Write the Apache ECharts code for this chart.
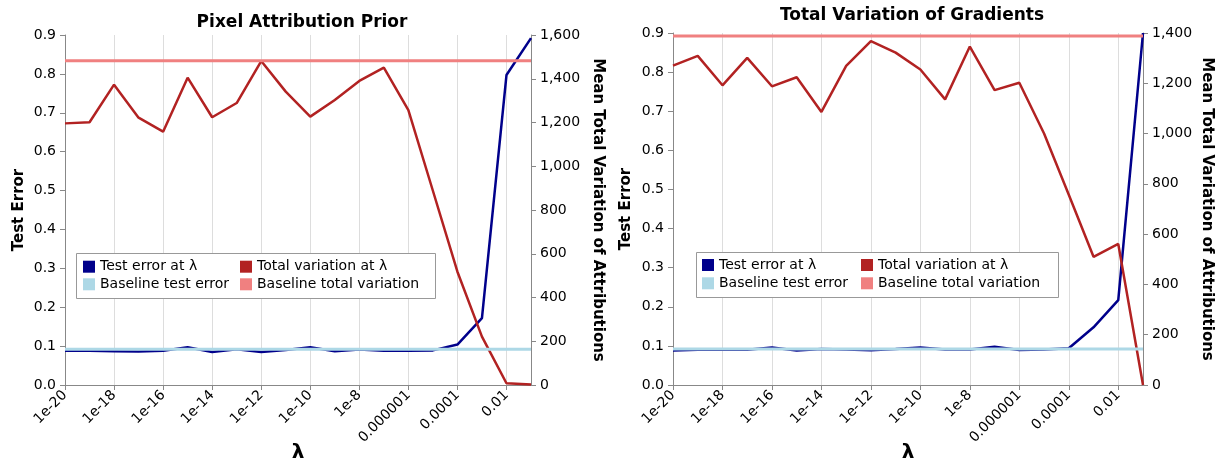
<!DOCTYPE html>
<html><head><meta charset="utf-8">
<script src="https://cdn.jsdelivr.net/npm/echarts@6/dist/echarts.min.js"></script>
<style>html,body{margin:0;padding:0;background:#fff}#c{width:1225px;height:463px}</style>
</head><body><div id="c"></div>
<script>
// ---- data ----
const lambdas = ['1e-20','1e-19','1e-18','1e-17','1e-16','1e-15','1e-14','1e-13','1e-12','1e-11',
  '1e-10','1e-9','1e-8','1e-7','0.000001','0.00001','0.0001','0.001','0.01','0.1'];

const panelTitles = ['Pixel Attribution Prior', 'Total Variation of Gradients'];

const pixTestError = [0.088,0.088,0.087,0.086,0.088,0.097,0.085,0.092,0.085,0.090,
  0.097,0.087,0.091,0.088,0.088,0.089,0.104,0.172,0.797,0.892];
const pixTotalVar = [1196,1201,1373,1222,1158,1405,1224,1289,1481,1341,
  1227,1303,1390,1451,1257,888,518,221,8,2];
const pixBaselineError = 0.092;
const pixBaselineTV = 1482;

const tvgTestError = [0.088,0.090,0.091,0.090,0.096,0.088,0.092,0.091,0.089,0.092,
  0.096,0.091,0.091,0.098,0.0895,0.091,0.094,0.1475,0.217,0.9];
const tvgTotalVar = [1270,1309,1192,1301,1188,1224,1086,1269,1368,1322,
  1255,1136,1346,1173,1202,1000,757,510,561,0];
const tvgBaselineError = 0.092;
const tvgBaselineTV = 1388;

const rightAxisMax = [1600, 1400];

// ---- chart ----
const FONT = 'DejaVu Sans';
const chart = echarts.init(document.getElementById('c'), null, {renderer:'canvas'});

const grids = [
  {left:65, top:35, width:466, height:350, containLabel:false, outerBoundsMode:'none'},
  {left:673, top:33, width:470, height:352, containLabel:false, outerBoundsMode:'none'}
];

const panels = [
  {test:pixTestError, tv:pixTotalVar, be:pixBaselineError, btv:pixBaselineTV},
  {test:tvgTestError, tv:tvgTotalVar, be:tvgBaselineError, btv:tvgBaselineTV}
];

const nameGaps = [{l:38, r:59}, {l:39, r:56}];

const xAxes = [], yAxes = [], series = [];
panels.forEach((p, i) => {
  xAxes.push({
    type:'category', gridIndex:i, data:lambdas, boundaryGap:false,
    name:'λ', nameLocation:'middle', nameGap:58, nameMoveOverlap:false,
    nameTextStyle:{fontSize:20, fontWeight:'bold', color:'#000', fontFamily:FONT},
    axisLine:{lineStyle:{color:'#888'}},
    axisTick:{show:true, interval:1, length:5, lineStyle:{color:'#888'}},
    axisLabel:{interval:1, rotate:45, margin:8, fontSize:14, color:'#000', fontFamily:FONT},
    splitLine:{show:true, interval:1, lineStyle:{color:'#ddd'}}
  });
  yAxes.push({
    type:'value', gridIndex:i, position:'left', min:0, max:0.9, interval:0.1,
    name:'Test Error', nameLocation:'middle', nameGap:nameGaps[i].l, nameRotate:90, nameMoveOverlap:false,
    nameTextStyle:{fontSize:15, fontWeight:'bold', color:'#000', fontFamily:FONT},
    axisLine:{show:true, lineStyle:{color:'#888'}},
    axisTick:{show:true, length:5, lineStyle:{color:'#888'}},
    axisLabel:{formatter:v => v.toFixed(1), margin:9, fontSize:14, color:'#000', fontFamily:FONT},
    splitLine:{show:false}
  });
  yAxes.push({
    type:'value', gridIndex:i, position:'right', min:0, max:rightAxisMax[i], interval:200,
    name:'Mean Total Variation of Attributions', nameLocation:'middle', nameGap:nameGaps[i].r, nameRotate:-90, nameMoveOverlap:false,
    nameTextStyle:{fontSize:15, fontWeight:'bold', color:'#000', fontFamily:FONT},
    axisLine:{show:true, lineStyle:{color:'#888'}},
    axisTick:{show:true, length:5, lineStyle:{color:'#888'}},
    axisLabel:{formatter:v => v.toLocaleString('en-US'), margin:9, fontSize:14, color:'#000', fontFamily:FONT},
    splitLine:{show:false}
  });
  const mk = (name, yi, data, color, width, z) => ({
    name, type:'line', xAxisIndex:i, yAxisIndex:yi, data, symbol:'none', showSymbol:false,
    lineStyle:{color, width}, itemStyle:{color}, z, silent:true
  });
  series.push(mk('Test error at λ', 2*i, p.test, '#00008b', 2.5, 3));
  series.push(mk('Total variation at λ', 2*i+1, p.tv, '#b22222', 2.5, 3));
  series.push(mk('Baseline test error', 2*i, lambdas.map(() => p.be), '#add8e6', 3, 4));
  series.push(mk('Baseline total variation', 2*i+1, lambdas.map(() => p.btv), '#f08080', 3, 4));
});

const legendPos = [
  {cols:[83, 240], rows:[259.7, 277.3]},
  {cols:[702, 861], rows:[258, 276.3]}
];
const legendNames = [['Test error at λ','Total variation at λ'],['Baseline test error','Baseline total variation']];
const legends = [];
legendPos.forEach(lp => {
  legendNames.forEach((row, r) => row.forEach((nm, c) => {
    legends.push({
      data:[nm], left:lp.cols[c], top:lp.rows[r], orient:'horizontal', padding:0,
      itemWidth:12, itemHeight:12, icon:'rect', selectedMode:false, z:60,
      textStyle:{fontSize:14, color:'#000', fontFamily:FONT, lineHeight:14}
    });
  }));
});

chart.setOption({
  animation:false,
  backgroundColor:'#fff',
  title:[
    {text:panelTitles[0], left:297, top:9, textAlign:'center',
     textStyle:{fontSize:17, fontWeight:'bold', color:'#000', fontFamily:FONT}},
    {text:panelTitles[1], left:907, top:2, textAlign:'center',
     textStyle:{fontSize:17, fontWeight:'bold', color:'#000', fontFamily:FONT}}
  ],
  grid:grids,
  xAxis:xAxes,
  yAxis:yAxes,
  legend:legends,
  graphic:[
    {type:'rect', z:50, shape:{x:76.5, y:253.5, width:359, height:45}, style:{fill:'#fff', stroke:'#999', lineWidth:1}},
    {type:'rect', z:50, shape:{x:696.5, y:252.5, width:362, height:45}, style:{fill:'#fff', stroke:'#999', lineWidth:1}}
  ],
  series
});
</script>
</body></html>
